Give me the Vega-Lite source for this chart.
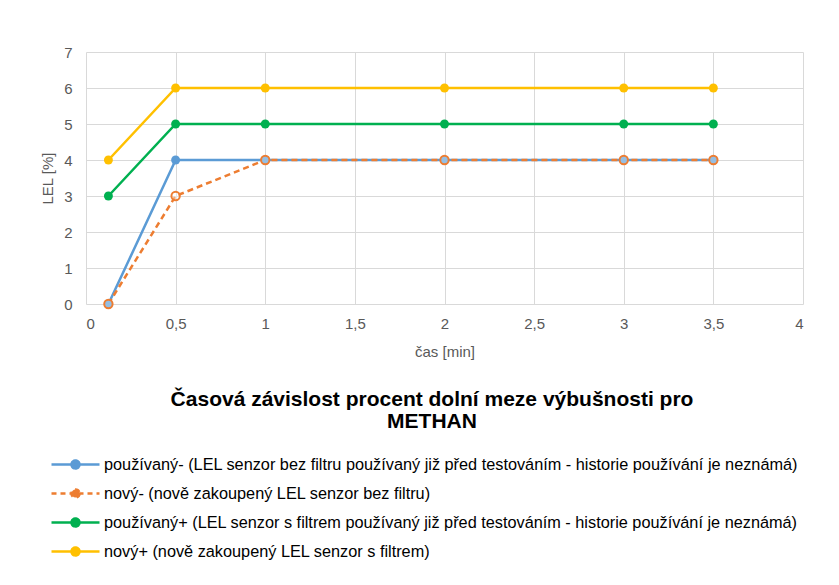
{
  "$schema": "https://vega.github.io/schema/vega-lite/v6.json",
  "width": 717,
  "height": 252,
  "autosize": {"type": "none"},
  "padding": {"left": 86, "top": 52, "right": 36, "bottom": 281},
  "background": "white",
  "config": {
    "locale": {"number": {"decimal": ",", "thousands": " ", "grouping": [3], "currency": ["", " Kč"]}},
    "font": "Liberation Sans, Arial",
    "view": {"stroke": null},
    "axis": {
      "domain": false,
      "ticks": false,
      "gridColor": "#d9d9d9",
      "gridWidth": 1,
      "labelColor": "#595959",
      "labelFontSize": 15,
      "labelFont": "Liberation Sans, Arial",
      "titleColor": "#595959",
      "titleFontSize": 15,
      "titleFontWeight": "normal",
      "titleFont": "Liberation Sans, Arial"
    }
  },
  "data": {
    "values": [
      {"serie": "používaný- (LEL senzor bez filtru používaný již před testováním - historie používání je neznámá)", "cas": 0.125, "LEL": 0},
      {"serie": "používaný- (LEL senzor bez filtru používaný již před testováním - historie používání je neznámá)", "cas": 0.5, "LEL": 4},
      {"serie": "používaný- (LEL senzor bez filtru používaný již před testováním - historie používání je neznámá)", "cas": 1, "LEL": 4},
      {"serie": "používaný- (LEL senzor bez filtru používaný již před testováním - historie používání je neznámá)", "cas": 2, "LEL": 4},
      {"serie": "používaný- (LEL senzor bez filtru používaný již před testováním - historie používání je neznámá)", "cas": 3, "LEL": 4},
      {"serie": "používaný- (LEL senzor bez filtru používaný již před testováním - historie používání je neznámá)", "cas": 3.5, "LEL": 4},
      {"serie": "nový- (nově zakoupený LEL senzor bez filtru)", "cas": 0.125, "LEL": 0},
      {"serie": "nový- (nově zakoupený LEL senzor bez filtru)", "cas": 0.5, "LEL": 3},
      {"serie": "nový- (nově zakoupený LEL senzor bez filtru)", "cas": 1, "LEL": 4},
      {"serie": "nový- (nově zakoupený LEL senzor bez filtru)", "cas": 2, "LEL": 4},
      {"serie": "nový- (nově zakoupený LEL senzor bez filtru)", "cas": 3, "LEL": 4},
      {"serie": "nový- (nově zakoupený LEL senzor bez filtru)", "cas": 3.5, "LEL": 4},
      {"serie": "používaný+ (LEL senzor s filtrem používaný již před testováním - historie používání je neznámá)", "cas": 0.125, "LEL": 3},
      {"serie": "používaný+ (LEL senzor s filtrem používaný již před testováním - historie používání je neznámá)", "cas": 0.5, "LEL": 5},
      {"serie": "používaný+ (LEL senzor s filtrem používaný již před testováním - historie používání je neznámá)", "cas": 1, "LEL": 5},
      {"serie": "používaný+ (LEL senzor s filtrem používaný již před testováním - historie používání je neznámá)", "cas": 2, "LEL": 5},
      {"serie": "používaný+ (LEL senzor s filtrem používaný již před testováním - historie používání je neznámá)", "cas": 3, "LEL": 5},
      {"serie": "používaný+ (LEL senzor s filtrem používaný již před testováním - historie používání je neznámá)", "cas": 3.5, "LEL": 5},
      {"serie": "nový+ (nově zakoupený LEL senzor s filtrem)", "cas": 0.125, "LEL": 4},
      {"serie": "nový+ (nově zakoupený LEL senzor s filtrem)", "cas": 0.5, "LEL": 6},
      {"serie": "nový+ (nově zakoupený LEL senzor s filtrem)", "cas": 1, "LEL": 6},
      {"serie": "nový+ (nově zakoupený LEL senzor s filtrem)", "cas": 2, "LEL": 6},
      {"serie": "nový+ (nově zakoupený LEL senzor s filtrem)", "cas": 3, "LEL": 6},
      {"serie": "nový+ (nově zakoupený LEL senzor s filtrem)", "cas": 3.5, "LEL": 6}
    ]
  },
  "encoding": {
    "x": {
      "field": "cas", "type": "quantitative",
      "scale": {"domain": [0, 4], "nice": false},
      "axis": {"title": "čas [min]", "values": [0, 0.5, 1, 1.5, 2, 2.5, 3, 3.5, 4], "format": ".1~f", "labelPadding": 12, "titlePadding": 13}
    },
    "y": {
      "field": "LEL", "type": "quantitative",
      "scale": {"domain": [0, 7], "nice": false},
      "axis": {"title": "LEL [%]", "values": [0, 1, 2, 3, 4, 5, 6, 7], "labelPadding": 14, "titlePadding": 8}
    },
    "color": {
      "field": "serie", "type": "nominal",
      "scale": {
        "domain": [
          "používaný- (LEL senzor bez filtru používaný již před testováním - historie používání je neznámá)",
          "nový- (nově zakoupený LEL senzor bez filtru)",
          "používaný+ (LEL senzor s filtrem používaný již před testováním - historie používání je neznámá)",
          "nový+ (nově zakoupený LEL senzor s filtrem)"
        ],
        "range": ["#5B9BD5", "#ED7D31", "#00B050", "#FFC000"]
      },
      "legend": {
        "title": ["Časová závislost procent dolní meze výbušnosti pro", "METHAN"],
        "orient": "none",
        "legendX": -20,
        "legendY": 337,
        "direction": "vertical",
        "padding": 0,
        "titleAnchor": "middle",
        "titleAlign": "center",
        "titleFontSize": 21,
        "titleFontWeight": "bold",
        "titleColor": "#000000",
        "titleLineHeight": 22,
        "titlePadding": 23,
        "titleLimit": 1000,
        "labelLimit": 1000,
        "labelFontSize": 16.3,
        "labelColor": "#000000",
        "labelOffset": 19,
        "rowPadding": 10,
        "symbolType": "M-3,0L3,0M0.5,0A0.5,0.5,0,1,1,-0.5,0A0.5,0.5,0,1,1,0.5,0Z",
        "symbolSize": 256,
        "symbolStrokeWidth": 2.5,
        "encode": {
          "symbols": {
            "update": {
              "stroke": {"scale": "color", "field": "value"},
              "fill": {"signal": "indexof(datum.value, 'nový-') === 0 ? 'white' : scale('color', datum.value)"},
              "strokeDash": {"signal": "indexof(datum.value, 'nový-') === 0 ? [5, 4] : [1, 0]"},
              "strokeWidth": {"value": 2.5},
              "opacity": {"value": 1}
            }
          }
        }
      }
    }
  },
  "layer": [
    {
      "transform": [{"filter": "indexof(datum.serie, 'nový-') !== 0"}],
      "mark": {"type": "line", "strokeWidth": 2.5}
    },
    {
      "transform": [{"filter": "indexof(datum.serie, 'nový-') === 0"}],
      "mark": {"type": "line", "strokeWidth": 2.5, "strokeDash": [6, 4]}
    },
    {
      "transform": [{"filter": "indexof(datum.serie, 'nový-') !== 0"}],
      "mark": {"type": "point", "filled": true, "size": 80, "opacity": 1}
    },
    {
      "transform": [{"filter": "indexof(datum.serie, 'nový-') === 0"}],
      "mark": {"type": "point", "filled": false, "size": 70, "strokeWidth": 2, "fill": "white", "fillOpacity": 0.35, "opacity": 1}
    }
  ]
}
